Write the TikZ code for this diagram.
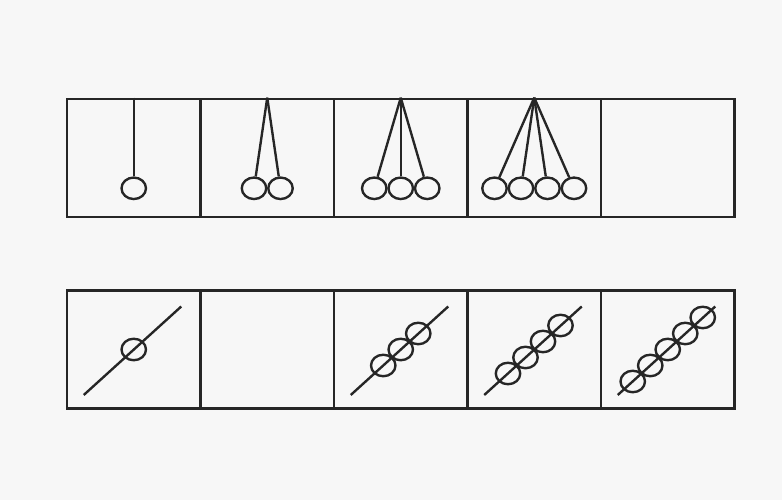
\documentclass[tikz,border=0pt]{standalone}
\usepackage{tikz}
\usetikzlibrary{shapes.geometric,positioning,calc}

\begin{document}
\begin{tikzpicture}[
    cell/.style={draw=black!85, line width=1.5pt, minimum width=2.67cm, minimum height=2.36cm, inner sep=0pt},
    ball/.style={draw=black!85, ellipse, line width=1.35pt, minimum width=0.49cm, minimum height=0.43cm, inner sep=0pt},
    cord/.style={draw=black!85, line width=1.35pt},
]

% Paper background
\fill[black!3] (0,0) rectangle (15.64,10);

% Top row of cells
\foreach \i in {1,...,5}
    \node[cell] (t\i) at ({1.34+2.67*(\i-0.5)}, 6.84) {};

% Pendulums: 1 to 4 balls hanging from the top edge
\foreach \n in {1,...,4} {
    \foreach \k in {1,...,\n} {
        \node[ball] (p\n\k) at ($(t\n.south)+({(\k-(\n+1)/2)*0.53},0.6)$) {};
        \draw[cord] (t\n.north) -- (p\n\k);
    }
}

% Bottom row of cells
\foreach \i in {1,...,5}
    \node[cell] (b\i) at ({1.34+2.67*(\i-0.5)}, 3.01) {};

% Rods with beads
\foreach \c/\n in {1/1, 3/3, 4/4, 5/5} {
    \coordinate (ra\c) at ($(b\c.center)+(-1.0,-0.91)$);
    \coordinate (rb\c) at ($(b\c.center)+(0.95,0.86)$);
    \draw[cord] (ra\c) -- (rb\c);
    \foreach \k in {1,...,\n}
        \node[ball] (s\c\k) at ($(b\c.center)+({(\k-(\n+1)/2)*0.35},{(\k-(\n+1)/2)*0.32})$) {};
}

\end{tikzpicture}
\end{document}
